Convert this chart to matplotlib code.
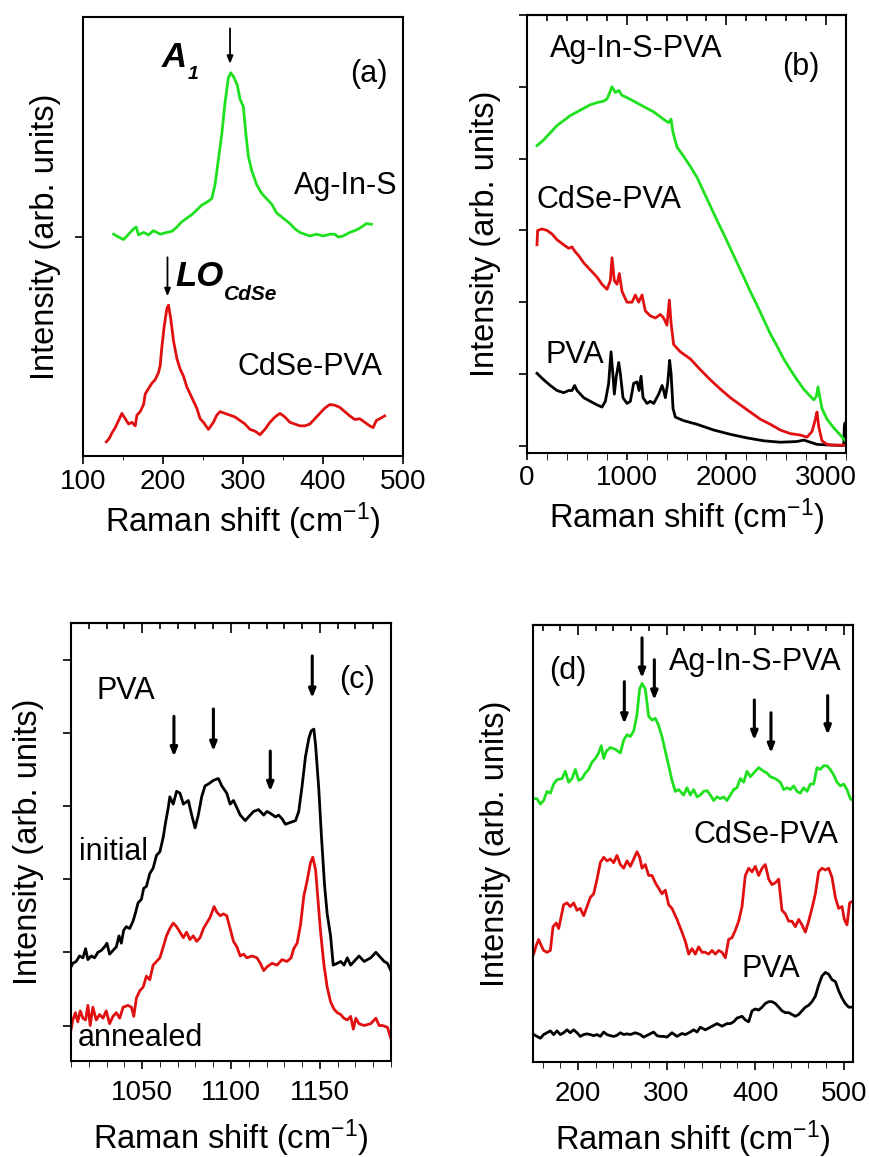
import numpy as np
import matplotlib
matplotlib.use("Agg")
import matplotlib.pyplot as plt
from matplotlib.ticker import MultipleLocator, FixedLocator, NullLocator

plt.rcParams['font.family'] = ['Liberation Sans', 'DejaVu Sans']
plt.rcParams['mathtext.fontset'] = 'custom'
plt.rcParams['mathtext.rm'] = 'Liberation Sans'
plt.rcParams['mathtext.it'] = 'Liberation Sans:italic'
plt.rcParams['mathtext.bf'] = 'Liberation Sans:bold'

GREEN = "#1fe01f"
RED = "#e01010"
BLACK = "#000000"

# ---------------- panel (a) ----------------
a_green_x = [138.3, 144.5, 150.7, 157.0, 163.2, 166.5, 169.4, 175.7, 181.9, 188.1, 196.5, 204.8, 211.0, 217.3,
             223.5, 229.7, 236.0, 242.2, 248.4, 254.7, 260.9, 265.1, 269.2, 273.4, 277.5, 281.7, 284.6, 287.9,
             292.9, 296.3, 300.4, 303.7, 306.7, 310.8, 317.0, 323.3, 329.5, 335.8, 342.0, 350.3, 358.6, 364.9,
             371.1, 377.3, 383.6, 391.9, 400.2, 408.5, 414.8, 418.9, 425.2, 433.5, 441.8, 448.0, 454.3, 460.5]
a_green_y = [62.5, 61.7, 61.0, 62.5, 64.0, 64.5, 62.3, 63.0, 62.3, 63.5, 62.5, 63.0, 63.3, 64.5,
             66.0, 67.0, 68.0, 69.3, 70.7, 71.5, 72.5, 76.5, 83.5, 90.5, 99.5, 106.5, 108.0, 107.0,
             104.5, 100.5, 98.5, 90.5, 84.5, 80.5, 76.5, 74.0, 72.5, 71.0, 68.5, 67.0, 65.5, 64.0,
             63.0, 62.5, 62.0, 62.5, 62.0, 62.5, 62.5, 61.7, 62.0, 63.0, 63.7, 64.5, 65.5, 65.3]
a_red_x = [129.1, 132.0, 134.1, 136.2, 140.3, 144.5, 148.6, 152.8, 157.0, 161.1, 165.3, 167.4, 171.5, 175.7,
           177.8, 181.9, 186.1, 190.2, 194.4, 196.5, 198.5, 201.5, 204.8, 206.9, 209.8, 213.1, 217.3, 221.4,
           225.6, 229.7, 233.9, 238.0, 242.2, 246.4, 250.5, 256.8, 263.0, 267.2, 271.3, 277.5, 283.8, 290.0,
           296.3, 302.5, 308.7, 315.0, 321.2, 327.4, 333.7, 339.9, 346.2, 352.4, 358.6, 364.9, 371.1, 377.3,
           383.6, 389.8, 396.0, 402.3, 408.5, 414.8, 421.0, 427.2, 433.5, 439.7, 445.9, 452.2, 458.4, 462.6,
           466.7, 470.9, 477.1]
a_red_y = [4.0, 4.7, 5.5, 6.5, 8.0, 10.0, 12.0, 10.5, 9.0, 9.5, 8.5, 11.5, 12.5, 14.5,
           17.5, 19.0, 20.5, 21.5, 23.5, 25.5, 30.5, 36.5, 41.5, 42.5, 38.5, 32.5, 27.5, 24.5,
           22.5, 19.5, 17.5, 15.5, 13.5, 10.5, 9.5, 7.5, 9.5, 11.5, 12.5, 12.0, 11.5, 11.0,
           10.0, 9.0, 7.5, 7.0, 6.0, 7.5, 9.5, 11.0, 12.0, 11.0, 9.5, 9.0, 8.5, 8.5,
           9.0, 10.5, 12.0, 13.5, 14.5, 14.3, 13.7, 12.5, 11.3, 10.3, 10.5, 9.5, 8.5, 8.0,
           10.0, 10.5, 11.3]

# ---------------- panel (b) ----------------
b_green_x = [100, 167, 234, 301, 368, 435, 502, 568, 635, 702, 769, 803, 853, 886, 920, 953, 1003, 1070, 1137,
             1204, 1271, 1338, 1388, 1421, 1445, 1465, 1505, 1572, 1639, 1705, 1772, 1839, 1906, 1973, 2040,
             2107, 2174, 2240, 2307, 2374, 2441, 2508, 2575, 2642, 2709, 2775, 2842, 2876, 2903, 2919, 2936,
             2959, 3010, 3077, 3143, 3193]
b_green_y = [41.8, 42.6, 43.6, 44.6, 45.3, 46.0, 46.5, 47.0, 47.5, 47.8, 48.0, 48.3, 50.0, 49.2, 49.5, 48.8,
             48.5, 48.0, 47.5, 47.0, 46.5, 45.8, 45.3, 45.0, 45.5, 43.6, 41.6, 40.3, 38.9, 37.4, 35.4, 33.4,
             31.4, 29.5, 27.5, 25.5, 23.5, 21.5, 19.6, 17.6, 15.6, 13.9, 12.1, 10.6, 9.2, 7.9, 6.9, 6.4, 6.9,
             8.2, 6.9, 5.2, 3.7, 2.5, 1.5, 0.7]
b_red_x = [100, 107, 150, 201, 251, 301, 368, 418, 451, 485, 518, 568, 635, 702, 752, 803, 836, 853, 876, 903,
           926, 953, 1003, 1053, 1087, 1120, 1154, 1187, 1237, 1287, 1338, 1371, 1404, 1428, 1445, 1471, 1538,
           1639, 1739, 1839, 1940, 2040, 2140, 2240, 2341, 2441, 2541, 2642, 2742, 2809, 2859, 2893, 2909,
           2926, 2959, 3010, 3077, 3193]
b_red_y = [28.0, 30.0, 30.2, 30.0, 29.5, 28.7, 28.0, 27.5, 27.7, 27.0, 26.5, 25.5, 24.5, 23.5, 22.5, 21.8,
           23.0, 26.2, 23.0, 22.5, 24.0, 21.5, 20.0, 20.0, 21.0, 20.0, 21.0, 18.8, 18.1, 17.8, 18.3, 17.8,
           16.8, 20.3, 17.1, 14.1, 13.1, 12.1, 10.6, 9.2, 7.9, 6.7, 5.7, 4.7, 3.7, 3.0, 2.2, 1.7, 1.5, 1.2,
           2.0, 3.7, 4.7, 2.7, 0.7, 0.2, 0.1, 0.1]
b_black_x = [100, 167, 234, 301, 368, 418, 451, 478, 502, 569, 635, 702, 752, 786, 819, 843, 863, 876, 896,
             920, 936, 963, 1003, 1037, 1070, 1104, 1124, 1144, 1164, 1204, 1237, 1271, 1321, 1355, 1371, 1388,
             1411, 1431, 1445, 1465, 1488, 1572, 1705, 1873, 2040, 2207, 2374, 2541, 2709, 2776, 2842, 2909,
             3043, 3177, 3183, 3190, 3197]
b_black_y = [10.1, 9.2, 8.4, 7.7, 7.4, 7.7, 7.7, 8.4, 7.7, 6.7, 6.2, 5.7, 5.4, 6.2, 8.7, 13.1, 9.7, 7.2,
             9.7, 11.6, 10.1, 6.7, 5.9, 6.2, 8.7, 8.9, 7.7, 9.7, 6.7, 5.9, 6.2, 5.9, 7.2, 8.4, 7.7, 6.7,
             8.7, 11.9, 10.1, 5.2, 4.0, 3.5, 3.0, 2.2, 1.6, 1.1, 0.7, 0.5, 0.6, 0.8, 0.5, 0.2, 0.1, 0.05,
             2.7, 3.2, 2.7]

# ---------------- panel (c) ----------------
c_black_x = [1009.5, 1011.0, 1012.9, 1014.8, 1016.7, 1018.2, 1019.5, 1021.4, 1023.3, 1025.1, 1027.0, 1028.9,
             1030.2, 1031.7, 1033.6, 1035.5, 1037.0, 1038.3, 1039.6, 1041.1, 1043.0, 1044.9, 1046.4, 1047.7,
             1049.6, 1050.9, 1052.4, 1054.3, 1056.2, 1058.1, 1060.0, 1061.9, 1063.2, 1064.7, 1065.6, 1067.5,
             1069.4, 1071.3, 1073.2, 1076.0, 1077.9, 1079.8, 1081.6, 1083.5, 1085.4, 1087.3, 1090.1, 1092.9,
             1094.8, 1097.6, 1099.5, 1101.4, 1103.3, 1105.2, 1108.0, 1110.8, 1112.7, 1115.5, 1118.4, 1120.2,
             1122.1, 1125.0, 1126.8, 1128.7, 1130.6, 1133.4, 1136.3, 1138.1, 1140.0, 1141.9, 1143.8, 1145.1,
             1146.6, 1147.6, 1149.4, 1150.9, 1152.6, 1154.1, 1156.0, 1157.5, 1159.8, 1161.7, 1163.6, 1165.4,
             1167.3, 1169.2, 1172.0, 1174.9, 1178.6, 1181.5, 1184.3, 1186.2, 1188.0, 1189.9]
c_black_y = [0.775, 0.85, 0.875, 0.95, 0.925, 1.05, 0.9, 0.95, 0.925, 1.0, 1.025, 1.075,
             1.125, 0.975, 1.025, 1.075, 1.225, 1.125, 1.3, 1.35, 1.325, 1.425, 1.55, 1.675,
             1.725, 1.875, 1.9, 2.075, 2.15, 2.325, 2.375, 2.575, 2.775, 2.975, 3.125, 3.025,
             3.2, 3.175, 3.025, 3.075, 2.875, 2.7, 2.875, 3.125, 3.275, 3.3, 3.35, 3.375,
             3.275, 3.175, 3.025, 3.075, 2.975, 2.875, 2.8, 2.875, 2.925, 2.95, 2.875, 2.925,
             2.9, 2.85, 2.875, 2.825, 2.75, 2.775, 2.8, 2.925, 3.275, 3.675, 3.925, 4.025,
             4.05, 3.825, 3.225, 2.575, 1.925, 1.525, 1.225, 0.825, 0.85, 0.875, 0.825, 0.925,
             0.825, 0.875, 0.95, 0.875, 0.925, 1.0, 0.925, 0.875, 0.85, 0.75]
c_red_x = [1009.5, 1011.0, 1012.5, 1013.8, 1015.2, 1016.7, 1018.2, 1019.5, 1020.8, 1022.3, 1024.2, 1026.1,
           1028.0, 1029.8, 1031.7, 1033.6, 1035.5, 1037.4, 1039.3, 1042.1, 1044.0, 1045.3, 1046.8, 1048.7,
           1050.6, 1052.4, 1054.3, 1056.2, 1058.1, 1060.0, 1061.9, 1063.7, 1065.6, 1067.5, 1069.4, 1071.3,
           1073.2, 1075.0, 1076.9, 1078.8, 1080.7, 1082.6, 1084.5, 1086.3, 1088.2, 1090.5, 1092.0, 1093.9,
           1095.8, 1097.6, 1099.5, 1101.4, 1103.3, 1105.2, 1107.1, 1108.9, 1111.8, 1114.6, 1116.5, 1118.4,
           1120.2, 1123.1, 1125.9, 1128.7, 1131.5, 1133.8, 1135.3, 1137.2, 1139.1, 1141.0, 1142.8, 1144.7,
           1146.0, 1147.6, 1148.9, 1150.4, 1152.3, 1154.1, 1156.0, 1157.9, 1159.8, 1161.7, 1163.5, 1165.4,
           1167.3, 1168.8, 1170.2, 1172.0, 1174.9, 1178.6, 1181.5, 1183.3, 1185.2, 1188.0, 1189.9]
c_red_y = [-0.125, 0.075, 0.175, 0.05, 0.2, 0.1, 0.075, 0.275, 0.0, 0.25, 0.075, 0.15,
           0.1, 0.2, 0.025, 0.125, 0.175, 0.1, 0.25, 0.275, 0.25, 0.125, 0.375, 0.475,
           0.525, 0.675, 0.625, 0.825, 0.875, 0.925, 1.075, 1.225, 1.325, 1.4, 1.35, 1.275,
           1.2, 1.275, 1.175, 1.225, 1.15, 1.2, 1.325, 1.4, 1.475, 1.625, 1.55, 1.5,
           1.525, 1.5, 1.325, 1.15, 1.075, 0.95, 0.975, 0.925, 0.95, 0.925, 0.85, 0.75,
           0.8, 0.85, 0.825, 0.9, 0.875, 0.925, 1.05, 1.125, 1.375, 1.775, 1.975, 2.225,
           2.3, 2.125, 1.725, 1.275, 0.825, 0.525, 0.325, 0.225, 0.175, 0.15, 0.1, 0.075,
           0.125, -0.05, 0.1, 0.025, 0.0, 0.025, 0.1, 0.0, 0.0, -0.025, -0.175]

# ---------------- panel (d) ----------------
d_green_x = [149.9, 153.7, 157.5, 161.2, 165.0, 168.8, 172.5, 176.3, 181.9, 185.7, 189.5, 193.2, 197.0, 200.8,
             204.5, 208.3, 212.0, 215.8, 219.6, 223.3, 226.3, 229.0, 232.0, 236.5, 242.2, 247.8, 251.6, 255.3,
             259.1, 262.9, 266.6, 269.6, 272.3, 276.0, 279.8, 283.6, 287.3, 291.1, 294.8, 298.6, 302.4, 306.1,
             309.9, 313.7, 319.3, 323.1, 326.8, 330.6, 334.4, 338.1, 341.9, 345.7, 349.4, 353.2, 356.9, 360.7,
             364.5, 368.2, 372.0, 375.8, 379.5, 383.3, 387.1, 390.8, 394.6, 398.3, 404.0, 409.6, 413.4, 417.2,
             422.8, 428.5, 432.2, 436.0, 439.7, 443.5, 447.3, 451.0, 454.8, 458.6, 462.3, 466.1, 469.9, 473.6,
             477.4, 481.1, 484.9, 488.7, 492.4, 496.2, 500.0, 503.7, 507.5, 510.1]
d_green_y = [72.0, 72.0, 70.5, 71.5, 74.0, 73.5, 76.0, 77.2, 77.5, 79.5, 76.5, 77.5, 80.0, 77.0,
             77.5, 79.0, 80.0, 82.0, 83.0, 84.5, 86.5, 83.0, 85.0, 86.0, 85.5, 84.5, 88.0, 89.5,
             89.0, 90.5, 95.0, 102.0, 103.5, 102.0, 94.5, 93.5, 94.0, 92.0, 89.0, 85.0, 81.0, 77.0,
             74.0, 74.5, 73.0, 75.0, 73.0, 74.5, 72.5, 73.0, 74.0, 74.2, 73.0, 71.5, 72.5, 72.0,
             72.5, 71.5, 73.0, 74.5, 75.0, 77.5, 76.5, 79.5, 78.0, 79.0, 80.5, 79.5, 79.0, 78.0,
             77.5, 76.5, 74.5, 75.0, 74.5, 75.5, 74.0, 73.5, 75.0, 74.0, 76.0, 76.0, 80.5, 80.0,
             81.0, 81.0, 80.0, 78.5, 76.5, 75.5, 76.0, 74.5, 72.0, 71.5]
d_red_x = [149.9, 153.0, 155.6, 158.2, 161.2, 165.0, 168.8, 171.8, 175.5, 178.2, 180.8, 183.8, 187.6, 191.3,
           195.1, 198.9, 202.6, 206.4, 210.2, 213.9, 217.7, 221.5, 225.2, 229.0, 232.7, 236.5, 240.3, 244.0,
           247.8, 251.6, 255.3, 259.1, 262.9, 266.6, 269.6, 272.3, 276.0, 279.8, 283.6, 287.3, 291.1, 294.8,
           298.6, 302.4, 306.1, 311.8, 317.4, 321.2, 325.0, 328.7, 332.5, 336.2, 340.0, 343.8, 347.5, 351.3,
           355.1, 358.8, 362.6, 366.4, 370.1, 373.9, 377.6, 381.4, 385.2, 388.9, 392.7, 396.5, 400.2, 404.0,
           407.8, 411.5, 415.3, 419.0, 422.8, 426.6, 430.3, 434.1, 437.9, 441.6, 445.4, 449.2, 452.9, 456.7,
           460.4, 464.2, 468.0, 471.7, 475.5, 479.3, 483.0, 486.8, 490.6, 494.3, 498.1, 500.7, 503.7, 506.7,
           510.1]
d_red_y = [29.5, 32.0, 33.5, 32.0, 30.5, 30.0, 30.5, 37.0, 38.0, 36.5, 39.5, 43.0, 43.5, 42.5,
           43.5, 41.5, 42.0, 40.0, 42.5, 45.0, 46.0, 50.0, 54.5, 56.0, 55.0, 55.5, 54.5, 56.5,
           54.0, 53.0, 55.0, 53.5, 55.5, 57.5, 56.0, 53.0, 54.0, 51.0, 51.0, 49.0, 47.5, 46.0,
           47.0, 43.0, 42.0, 39.0, 35.5, 33.0, 29.5, 31.0, 29.5, 31.5, 30.0, 30.0, 29.5, 30.5,
           29.5, 30.5, 30.0, 28.5, 33.5, 34.0, 36.0, 38.5, 42.5, 51.0, 53.0, 52.0, 53.5, 51.0,
           53.0, 54.0, 50.0, 48.5, 49.0, 50.0, 41.5, 40.5, 38.5, 38.5, 37.0, 39.0, 37.5, 35.5,
           38.5, 42.0, 46.0, 52.0, 53.0, 52.5, 53.0, 50.5, 45.0, 42.0, 42.5, 39.0, 37.5, 43.5,
           44.0]
d_black_x = [149.9, 153.7, 157.5, 161.2, 165.0, 168.8, 172.5, 176.3, 180.1, 183.8, 187.6, 191.3, 195.1, 198.9,
             202.6, 206.4, 210.2, 213.9, 217.7, 221.5, 225.2, 229.0, 232.7, 236.5, 240.3, 244.0, 247.8, 251.6,
             255.3, 259.1, 264.7, 270.4, 274.1, 279.8, 285.4, 289.2, 293.0, 296.7, 300.5, 306.1, 311.8, 317.4,
             321.2, 326.8, 330.6, 334.4, 338.1, 343.8, 349.4, 353.2, 356.9, 362.6, 368.2, 372.0, 375.8, 379.5,
             385.2, 388.9, 392.7, 396.5, 400.2, 404.0, 407.8, 411.5, 415.3, 419.0, 422.8, 426.6, 430.3, 434.1,
             437.9, 441.6, 445.4, 449.2, 452.9, 456.7, 460.4, 464.2, 468.0, 471.7, 475.5, 479.3, 483.0, 486.8,
             490.6, 494.3, 498.1, 501.8, 505.6, 510.1]
d_black_y = [7.5, 7.0, 6.5, 7.5, 8.0, 8.5, 7.5, 8.5, 7.5, 8.0, 8.8, 8.0, 8.8, 8.0,
             7.0, 7.5, 7.7, 7.5, 7.2, 7.5, 7.0, 8.2, 7.5, 7.2, 7.0, 7.3, 8.0, 7.5,
             7.7, 7.5, 8.0, 7.5, 6.8, 7.5, 8.2, 7.2, 7.0, 7.0, 6.8, 8.0, 7.0, 7.8,
             7.5, 8.2, 8.8, 8.2, 9.5, 8.8, 9.5, 10.0, 10.5, 9.8, 10.5, 10.5, 11.0, 12.0,
             12.5, 11.5, 11.0, 14.0, 14.5, 14.2, 15.0, 16.0, 16.5, 16.5, 16.0, 15.0, 14.0, 13.5,
             13.5, 13.0, 12.5, 13.0, 14.0, 15.0, 15.5, 16.5, 18.0, 21.0, 23.5, 24.5, 24.0, 22.5,
             22.0, 19.5, 17.5, 16.0, 15.0, 15.0]

LW = 2.0
TICK_FS = 20
LABEL_FS = 23.5
TEXT_FS = 22
FIG_W, FIG_H = 869, 1157


def place(left, top, right, bottom):
    return [left / FIG_W, 1 - bottom / FIG_H, (right - left) / FIG_W, (bottom - top) / FIG_H]


def style(ax, ylab_x, pad=3.5, labelpad=4):
    for s in ax.spines.values():
        s.set_linewidth(1.5)
    ax.tick_params(labelsize=TICK_FS, width=1.2)
    ax.tick_params(axis="x", pad=pad)
    ax.set_xlabel("Raman shift (cm$^{-1}$)", fontsize=LABEL_FS, labelpad=labelpad)
    ax.set_ylabel("Intensity (arb. units)", fontsize=LABEL_FS)
    ax.yaxis.set_label_coords(ylab_x, 0.5)


def top_ticks(ax, major, minor):
    # inward ticks along the top edge only
    sec = ax.secondary_xaxis("top")
    sec.xaxis.set_major_locator(MultipleLocator(major))
    sec.xaxis.set_minor_locator(MultipleLocator(minor))
    sec.tick_params(which="major", direction="in", length=7, width=1.2, labeltop=False)
    sec.tick_params(which="minor", direction="in", length=4, width=1.2)
    sec.spines["top"].set_linewidth(1.5)


def arrow(ax, x, y_tail, y_tip, lw=2.2, head=0.5):
    ax.annotate("", xy=(x, y_tip), xytext=(x, y_tail),
                arrowprops=dict(arrowstyle=f"-|>,head_length={head},head_width={head * 0.4}",
                                color="black", lw=lw, shrinkA=0, shrinkB=0))


fig = plt.figure(figsize=(FIG_W / 100, FIG_H / 100), dpi=100)

# (a)
ax = fig.add_axes(place(83, 17, 403, 456))
ax.plot(a_green_x, a_green_y, color=GREEN, lw=LW)
ax.plot(a_red_x, a_red_y, color=RED, lw=LW)
ax.set_xlim(100, 500)
ax.set_ylim(0, 123.7)
ax.xaxis.set_major_locator(MultipleLocator(100))
ax.xaxis.set_minor_locator(MultipleLocator(50))
ax.yaxis.set_major_locator(FixedLocator([61.8]))
ax.set_yticklabels([])
ax.tick_params(axis="x", which="major", direction="out", length=6)
ax.tick_params(axis="x", which="minor", direction="out", length=3)
ax.tick_params(axis="y", direction="out", length=6)
style(ax, -0.069)
arrow(ax, 283.8, 120.5, 110.5, lw=1.3, head=0.45)
arrow(ax, 205.6, 56.0, 45.0, lw=1.3, head=0.45)
ax.text(199, 112.3, "A", fontsize=25, fontweight="bold", fontstyle="italic", ha="left", va="center")
ax.text(231, 107.5, "1", fontsize=14, fontweight="bold", fontstyle="italic", ha="left", va="center")
ax.text(216, 50.5, "LO", fontsize=25, fontweight="bold", fontstyle="italic", ha="left", va="center")
ax.text(276, 45.5, "CdSe", fontsize=15, fontweight="bold", fontstyle="italic", ha="left", va="center")
ax.text(457, 107.5, "(a)", fontsize=TEXT_FS, ha="center", va="center")
ax.text(428, 76, "Ag-In-S", fontsize=TEXT_FS, ha="center", va="center")
ax.text(384, 25, "CdSe-PVA", fontsize=TEXT_FS, ha="center", va="center")

# (b)
ax = fig.add_axes(place(527, 15, 846, 453))
ax.plot(b_black_x, b_black_y, color=BLACK, lw=LW)
ax.plot(b_red_x, b_red_y, color=RED, lw=LW)
ax.plot(b_green_x, b_green_y, color=GREEN, lw=LW)
ax.set_xlim(0, 3200)
ax.set_ylim(-1.0, 60.0)
ax.xaxis.set_major_locator(MultipleLocator(1000))
ax.xaxis.set_minor_locator(MultipleLocator(200))
ax.yaxis.set_major_locator(MultipleLocator(10))
ax.set_yticklabels([])
ax.tick_params(axis="x", which="both", direction="out", length=5)
ax.tick_params(axis="y", direction="out", length=6)
top_ticks(ax, 1000, 200)
style(ax, -0.081)
ax.text(234, 55.2, "Ag-In-S-PVA", fontsize=TEXT_FS, ha="left", va="center")
ax.text(2749, 52.7, "(b)", fontsize=TEXT_FS, ha="center", va="center")
ax.text(94, 34.2, "CdSe-PVA", fontsize=TEXT_FS, ha="left", va="center")
ax.text(184, 12.6, "PVA", fontsize=TEXT_FS, ha="left", va="center")

# (c)
ax = fig.add_axes(place(71, 623, 391, 1061))
ax.plot(c_black_x, c_black_y, color=BLACK, lw=LW)
ax.plot(c_red_x, c_red_y, color=RED, lw=LW)
ax.set_xlim(1010, 1190)
ax.set_ylim(-0.485, 5.5)
ax.xaxis.set_major_locator(MultipleLocator(50))
ax.xaxis.set_minor_locator(MultipleLocator(10))
ax.yaxis.set_major_locator(MultipleLocator(1))
ax.set_yticklabels([])
ax.tick_params(axis="x", which="major", direction="out", length=6)
ax.tick_params(axis="x", which="minor", direction="out", length=4)
ax.tick_params(axis="y", direction="out", length=6)
top_ticks(ax, 50, 10)
style(ax, -0.084, pad=8, labelpad=8)
for xa, yt, yh in [(1067.9, 4.225, 3.675), (1090.1, 4.325, 3.75), (1122.1, 3.75, 3.2), (1145.7, 5.05, 4.475)]:
    arrow(ax, xa, yt, yh)
ax.text(1024.2, 4.575, "PVA", fontsize=TEXT_FS, ha="left", va="center")
ax.text(1171.1, 4.725, "(c)", fontsize=TEXT_FS, ha="center", va="center")
ax.text(1014.4, 2.375, "initial", fontsize=TEXT_FS, ha="left", va="center")
ax.text(1013.8, -0.175, "annealed", fontsize=TEXT_FS, ha="left", va="center")

# (d)
ax = fig.add_axes(place(533, 625, 853, 1062))
ax.plot(d_black_x, d_black_y, color=BLACK, lw=LW)
ax.plot(d_red_x, d_red_y, color=RED, lw=LW)
ax.plot(d_green_x, d_green_y, color=GREEN, lw=LW)
ax.set_xlim(149.2, 510.5)
ax.set_ylim(0, 119.5)
ax.xaxis.set_major_locator(MultipleLocator(100))
ax.xaxis.set_minor_locator(MultipleLocator(20))
ax.yaxis.set_major_locator(NullLocator())
ax.tick_params(axis="x", which="major", direction="out", length=6)
ax.tick_params(axis="x", which="minor", direction="out", length=4)
top_ticks(ax, 100, 20)
style(ax, -0.069, pad=8, labelpad=8)
for xa, yt, yh in [(252.3, 104, 92.5), (272.3, 116, 105), (286.2, 110, 99),
                   (399.1, 99, 88), (417.9, 95.5, 84.5), (481.9, 100.2, 89.5)]:
    arrow(ax, xa, yt, yh)
ax.text(188.3, 107, "(d)", fontsize=TEXT_FS, ha="center", va="center")
ax.text(498.1, 109.5, "Ag-In-S-PVA", fontsize=TEXT_FS, ha="right", va="center")
ax.text(494.3, 62, "CdSe-PVA", fontsize=TEXT_FS, ha="right", va="center")
ax.text(417.9, 25.5, "PVA", fontsize=TEXT_FS, ha="center", va="center")

fig.savefig("out.png", dpi=100)
